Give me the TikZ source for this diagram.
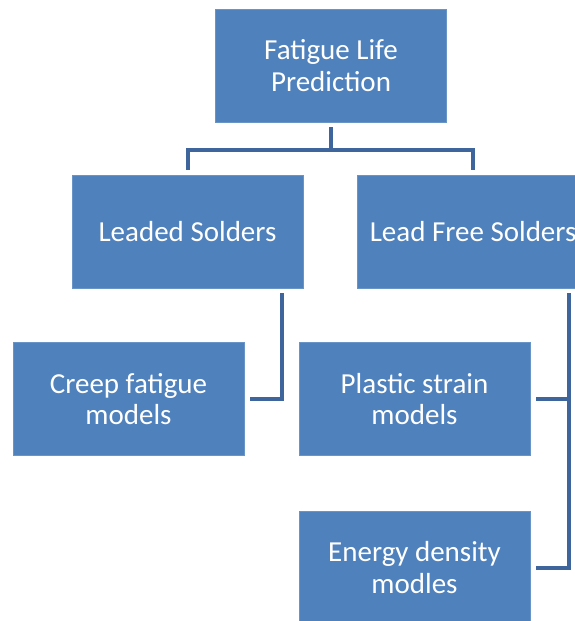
\documentclass[tikz,border=0pt]{standalone}
\usepackage{fontspec}
\setmainfont{Carlito}
\usetikzlibrary{positioning}
\usetikzlibrary{calc}
\definecolor{boxblue}{RGB}{79,129,189}
\definecolor{lineblue}{RGB}{62,102,156}

\begin{document}
\begin{tikzpicture}[x=1pt, y=-1pt,
			box/.style={fill=boxblue, draw=boxblue!85!white, line width=0.6pt, text=white, align=center, minimum width=231pt, minimum height=113pt, inner sep=0pt, font=\fontsize{29}{31.5}\selectfont},
			link/.style={draw=lineblue, line width=4pt}]
			\clip (0,0) rectangle (575,621);
			\node[box](top) at (331,65.5){Fatigue Life\\Prediction};
			\node[box](leaded) at (187.5,231.5){Leaded Solders};
			\node[box, right=54pt of leaded](leadfree){Lead Free Solders};
			\node[box](creep) at (128.5,399){Creep fatigue\\models};
			\node[box](plastic) at (414.5,399){Plastic strain\\models};
			\node[box, below=55pt of plastic](energy){Energy density\\modles};
			\coordinate (trunk) at ($(leadfree.south)+(96,5)$);
			\coordinate (branch) at ($(leaded.south east)+(-21,5)$);
			\path[link] ($(top.south)+(0,5)$) -- ++(0,23);
			\path[link] ($(leaded.north)+(0,-5)$) |- ($(leadfree.north)+(0,-25)$) -- ($(leadfree.north)+(0,-5)$);
			\path[link] (branch) |- ($(creep.east)+(6,0)$);
			\path[link] (trunk) |- ($(energy.east)+(6,0)$);
			\path[link] ($(plastic.east)+(6,0)$) -- (plastic.east -| trunk);
	\end{tikzpicture}
\end{document}
